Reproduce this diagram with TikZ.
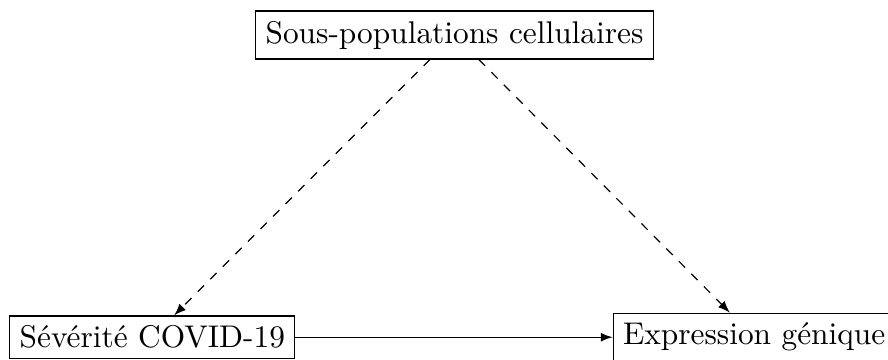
\documentclass[tikz,border=0pt]{standalone}
\begin{document}
\begin{tikzpicture}[box/.style={draw,rectangle},font=\fontsize{10.6pt}{12.7pt}\selectfont]
 \useasboundingbox (-5.40,0.416) rectangle (5.15,-3.85);
 \node[box] (cell) at (0,0) {Sous-populations cellulaires};
 \node[box] (sev) at (-3.59,-3.59) {Sévérité COVID-19};
 \node[box] (expr) at (3.56,-3.59) {Expression génique};
 \draw[dashed,-latex] (cell) -- (sev);
 \draw[dashed,-latex] (cell) -- (expr);
 \draw[-latex] (sev) -- (expr);
\end{tikzpicture}
\end{document}
